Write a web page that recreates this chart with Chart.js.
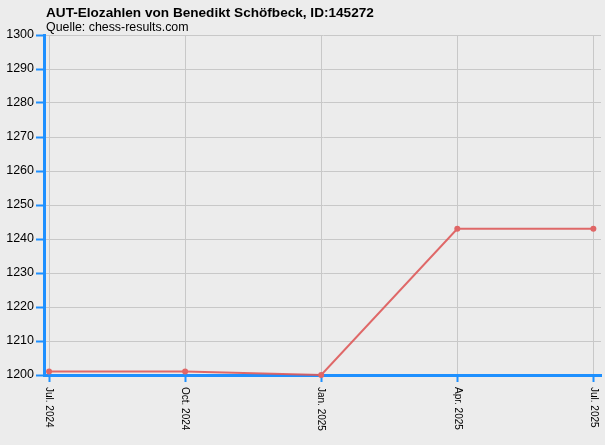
<!DOCTYPE html>
<html>
<head>
<meta charset="utf-8">
<script src="https://cdn.jsdelivr.net/npm/chart.js@4/dist/chart.umd.min.js"></script>
<style>
    body { margin: 0; background: #ececec; }
    canvas { display: block; }
</style>
</head>
<body>
<canvas id="grafico" width="605" height="445"></canvas>
<script>
// dados do gráfico
var titulo = 'AUT-Elozahlen von Benedikt Schöfbeck, ID:145272';
var subtitulo = 'Quelle: chess-results.com';
var datas = ['Jul. 2024', 'Oct. 2024', 'Jan. 2025', 'Apr. 2025', 'Jul. 2025'];
var elo = [1201, 1201, 1200, 1243, 1243];
var eloMin = 1200;
var eloMax = 1300;
var eloPasso = 10;

var azul = '#1e90ff';
var cinza = '#c8c8c8';

// titulo e rotulos do eixo x (girados no sentido horario)
var textosPlugin = {
    id: 'textos',
    afterDraw: function (chart) {
        var ctx = chart.ctx;
        ctx.save();
        ctx.fillStyle = '#000';
        ctx.textAlign = 'left';
        ctx.textBaseline = 'alphabetic';
        ctx.font = 'bold 13.6px "Liberation Sans", Arial, sans-serif';
        ctx.fillText(titulo, 46, 17);
        ctx.font = '12.4px "Liberation Sans", Arial, sans-serif';
        ctx.fillText(subtitulo, 46, 31);

        var escalaX = chart.scales.x;
        ctx.font = '10px "Liberation Sans", Arial, sans-serif';
        ctx.textBaseline = 'middle';
        for (var i = 0; i < datas.length; i++) {
            var x = escalaX.getPixelForValue(i);
            ctx.save();
            ctx.translate(x, chart.chartArea.bottom + 12);
            ctx.rotate(Math.PI / 2);
            ctx.fillText(datas[i], 0, 0);
            ctx.restore();
        }
        ctx.restore();
    }
};

var pontos = [];
for (var i = 0; i < elo.length; i++) {
    pontos.push({ x: i, y: elo[i] });
}

var ctx = document.getElementById('grafico').getContext('2d');
new Chart(ctx, {
    type: 'line',
    data: {
        datasets: [{
            data: pontos,
            borderColor: 'rgba(222, 90, 90, 0.9)',
            backgroundColor: '#e06666',
            borderWidth: 2,
            pointRadius: 3,
            pointBorderWidth: 0,
            pointBackgroundColor: '#e06666',
            tension: 0,
            clip: false
        }]
    },
    options: {
        responsive: false,
        animation: false,
        devicePixelRatio: 1,
        layout: {
            padding: { top: 35, right: 4, bottom: 0, left: 0 }
        },
        plugins: {
            legend: { display: false },
            tooltip: { enabled: false }
        },
        scales: {
            x: {
                type: 'linear',
                min: -0.037,
                max: 4.056,
                afterBuildTicks: function (axis) {
                    axis.ticks = datas.map(function (d, i) { return { value: i }; });
                },
                afterFit: function (axis) {
                    axis.height = 70;
                },
                ticks: { display: false },
                grid: {
                    color: cinza,
                    lineWidth: 1,
                    tickColor: azul,
                    tickLength: 7,
                    tickWidth: 2
                },
                border: { color: azul, width: 3 }
            },
            y: {
                min: eloMin,
                max: eloMax,
                afterFit: function (axis) {
                    axis.width = 44;
                },
                ticks: {
                    stepSize: eloPasso,
                    padding: 2,
                    color: '#000',
                    font: { family: '"Liberation Sans", Arial, sans-serif', size: 12.5 },
                    callback: function (valor) {
                        return String(valor);
                    }
                },
                grid: {
                    color: cinza,
                    lineWidth: 1,
                    tickColor: azul,
                    tickLength: 8,
                    tickWidth: 2
                },
                border: { color: azul, width: 3 }
            }
        }
    },
    plugins: [textosPlugin]
});
</script>
</body>
</html>
